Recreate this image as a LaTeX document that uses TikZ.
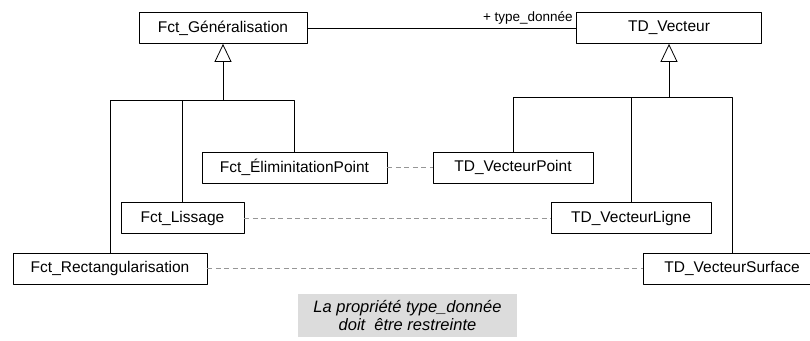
\documentclass[tikz,border=0pt]{standalone}
\usepackage{fontspec}
\setmainfont{Liberation Sans}
\usetikzlibrary{arrows.meta}
\definecolor{notefill}{RGB}{220,220,220}
\definecolor{depgray}{RGB}{150,150,150}

\begin{document}
\begin{tikzpicture}[x=1pt, y=-1pt, line join = round,
  classe/.style={draw, line width=0.8pt, minimum height=31pt, inner sep=0pt, font=\fontsize{15.5}{18}\selectfont},
  herit/.style={line width=0.8pt, -{Triangle[open, width=17pt, length=18pt, line width=0.8pt]}},
  lien/.style={line width=0.8pt},
  dep/.style={depgray, line width=0.8pt, dash pattern=on 5pt off 3.5pt}]
\useasboundingbox (0,0) rectangle (810,340);

\node[classe, minimum width=168pt] (gen) at (223,28) {Fct\_Généralisation};
\node[classe, minimum width=185pt] (vec) at (669,28) {TD\_Vecteur};

\node[classe, minimum width=185pt] (elim) at (294.5,167.5) {Fct\_ÉliminitationPoint};
\node[classe, minimum width=123pt] (liss) at (182.5,218) {Fct\_Lissage};
\node[classe, minimum width=194pt] (rect) at (110,268.5) {Fct\_Rectangularisation};

\node[classe, minimum width=160pt] (vpt) at (513,167.5) {TD\_VecteurPoint};
\node[classe, minimum width=160pt] (vlig) at (631,218) {TD\_VecteurLigne};
\node[classe, minimum width=178pt] (vsurf) at (732,268.5) {TD\_VecteurSurface};

\node[fill=notefill, minimum width=219pt, minimum height=43pt, align=center,
  font=\fontsize{16.5}{18.5}\selectfont\itshape] (note) at (407.5,315.5)
  {La propriété type\_donnée\\doit~ être restreinte};

% association
\draw[lien] (gen.east) -- (vec.west)
  node[pos=1, above left, inner sep=3pt, font=\fontsize{13.5}{15}\selectfont] (role) {+ type\_donnée};

% heritage
\coordinate (barG) at (gen.south |- 0,100);
\coordinate (barV) at (vec.south |- 0,97);
\draw[herit] (barG) -- (gen.south);
\draw[lien] (rect.north) |- (elim.north |- barG) -- (elim.north);
\draw[lien] (liss.north) -- (liss.north |- barG);
\draw[herit] (barV) -- (vec.south);
\draw[lien] (vpt.north) |- (vsurf.north |- barV) -- (vsurf.north);
\draw[lien] (vlig.north) -- (vlig.north |- barV);

% correspondances
\draw[dep] (elim.east) -- (vpt.west);
\draw[dep] (liss.east) -- (vlig.west);
\draw[dep] (rect.east) -- (vsurf.west);
\end{tikzpicture}
\end{document}
